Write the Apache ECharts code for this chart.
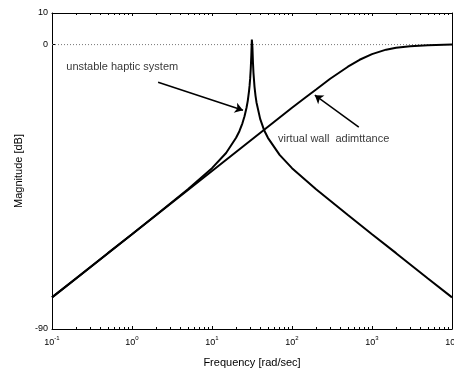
<!DOCTYPE html>
<html>
<head>
<meta charset="utf-8">
<script src="https://cdn.jsdelivr.net/npm/echarts@6/dist/echarts.min.js"></script>
<style>html,body{margin:0;padding:0;background:#fff}#c{width:454px;height:369px}</style>
</head>
<body>
<div id="c"></div>
<script>
// ---- data ----
const freqUnstable = [0.1, 0.2, 0.5, 1, 2, 5, 10, 15, 20, 22, 24, 25.5, 27, 28, 29, 29.5, 30, 30.5, 31, 31.3, 31.5, 31.62, 31.75, 32, 32.5, 33, 34, 35, 36, 40, 45, 50, 70, 100, 200, 500, 1000, 2000, 5000, 10000];
const magUnstable  = [-80.0, -74.0, -66.0, -60.0, -53.9, -45.8, -39.1, -34.3, -29.5, -27.4, -24.9, -22.7, -20.0, -17.8, -14.8, -13.0, -10.7, -7.7, -3.5, -0.2, 1.6, 2.0, 1.6, -0.8, -5.6, -9.0, -13.4, -16.2, -18.3, -23.5, -27.2, -29.5, -34.9, -39.1, -45.8, -53.9, -60.0, -66.0, -74.0, -80.0];
const freqWall = [0.1, 1, 10, 100, 150, 200, 300, 500, 700, 1000, 1500, 2000, 3000, 5000, 10000];
const magWall  = [-80.0, -60.0, -40.0, -20.0, -16.6, -14.2, -10.8, -7.0, -4.8, -3.0, -1.6, -1.0, -0.5, -0.2, 0.0];
const zeroLineX = [0.1, 10000];
const zeroLineY = [0, 0];
const xTickValues = [0.1, 1, 10, 100, 1000, 10000];
const xTickExponents = ['-1', '0', '1', '2', '3', '4'];
const yTickValues = [-90, 0, 10];
const annotationTexts = ['unstable haptic system', 'virtual wall  adimttance'];
const annotationTextX = [0.151, 66.8];
const annotationTextY = [-7.2, -29.9];
const arrowTailX = [2.12, 684];
const arrowTailY = [-11.9, -26.1];
const arrowTipX = [24.4, 193];
const arrowTipY = [-20.8, -16.0];
const xAxisTitle = 'Frequency [rad/sec]';
const yAxisTitle = 'Magnitude [dB]';

// minor tick positions (2..9 in each decade)
const xMinorTicks = [];
for (let d = -1; d < 4; d++) for (let m = 2; m <= 9; m++) xMinorTicks.push(+(m * Math.pow(10, d)).toPrecision(3));

const FONT = '"Liberation Sans", Arial, Helvetica, sans-serif';
const pair = (xs, ys) => xs.map((x, i) => [x, ys[i]]);

const chart = echarts.init(document.getElementById('c'), null, {renderer: 'canvas'});

const baseX = {type: 'log', logBase: 10, min: 0.1, max: 10000, gridIndex: 0, splitLine: {show: false}};
const axisBlack = {onZero: false, lineStyle: {color: '#000', width: 1}};

chart.setOption({
  animation: false,
  backgroundColor: '#fff',
  grid: {left: 52, right: 2, top: 13, bottom: 40, containLabel: false, outerBoundsMode: 'none'},
  xAxis: [
    Object.assign({}, baseX, {
      position: 'bottom',
      axisLine: axisBlack,
      axisTick: {inside: true, length: 3, customValues: xTickValues, lineStyle: {color: '#000'}},
      axisLabel: {
        customValues: xTickValues, margin: 6, color: '#000', fontFamily: FONT,
        formatter: function (v) {
          const i = xTickValues.findIndex(t => Math.abs(Math.log10(t) - Math.log10(v)) < 1e-6);
          return '{b|10}{s|' + (i >= 0 ? xTickExponents[i] : '') + '}';
        },
        rich: {
          b: {fontSize: 9, fontFamily: FONT, color: '#000', verticalAlign: 'bottom', lineHeight: 12},
          s: {fontSize: 6, fontFamily: FONT, color: '#000', verticalAlign: 'top', lineHeight: 12}
        }
      },
      name: xAxisTitle, nameLocation: 'middle', nameGap: 28,
      nameTextStyle: {fontSize: 11, fontFamily: FONT, color: '#000'}
    }),
    Object.assign({}, baseX, {
      position: 'bottom',
      axisLine: {show: false, onZero: false},
      axisTick: {inside: true, length: 2, customValues: xMinorTicks, lineStyle: {color: '#000'}},
      axisLabel: {show: false}
    }),
    Object.assign({}, baseX, {
      position: 'top',
      axisLine: axisBlack,
      axisTick: {inside: true, length: 3, customValues: xTickValues, lineStyle: {color: '#000'}},
      axisLabel: {show: false}
    }),
    Object.assign({}, baseX, {
      position: 'top',
      axisLine: {show: false, onZero: false},
      axisTick: {inside: true, length: 2, customValues: xMinorTicks, lineStyle: {color: '#000'}},
      axisLabel: {show: false}
    })
  ],
  yAxis: [
    {
      type: 'value', min: -90, max: 10, position: 'left', gridIndex: 0,
      splitLine: {show: false},
      axisLine: axisBlack,
      axisTick: {inside: true, length: 3, customValues: yTickValues, lineStyle: {color: '#000'}},
      axisLabel: {customValues: yTickValues, margin: 4, fontSize: 9, fontFamily: FONT, color: '#000'},
      name: yAxisTitle, nameLocation: 'middle', nameGap: 28,
      nameTextStyle: {fontSize: 11, fontFamily: FONT, color: '#000'}
    },
    {
      type: 'value', min: -90, max: 10, position: 'right', gridIndex: 0,
      splitLine: {show: false},
      axisLine: axisBlack,
      axisTick: {inside: true, length: 3, customValues: yTickValues, lineStyle: {color: '#000'}},
      axisLabel: {show: false}
    }
  ],
  series: [
    {
      name: 'zero', type: 'line', xAxisIndex: 0, yAxisIndex: 0,
      data: pair(zeroLineX, zeroLineY), showSymbol: false, symbol: 'none',
      lineStyle: {color: '#777', width: 1, type: [1, 2]}, silent: true
    },
    {
      name: 'unstable', type: 'line', xAxisIndex: 0, yAxisIndex: 0,
      data: pair(freqUnstable, magUnstable), showSymbol: false, symbol: 'none',
      lineStyle: {color: '#000', width: 2}, clip: true
    },
    {
      name: 'wall', type: 'line', xAxisIndex: 0, yAxisIndex: 0,
      data: pair(freqWall, magWall), showSymbol: false, symbol: 'none',
      lineStyle: {color: '#000', width: 2}, clip: true
    },
    {
      name: 'arrows', type: 'line', xAxisIndex: 0, yAxisIndex: 0, data: [],
      markLine: {
        silent: true, animation: false,
        symbol: ['none', 'arrow'], symbolSize: 8,
        label: {show: false},
        lineStyle: {color: '#000', width: 1.5, type: 'solid'},
        data: arrowTailX.map((x, i) => [
          {coord: [x, arrowTailY[i]]},
          {coord: [arrowTipX[i], arrowTipY[i]]}
        ])
      }
    },
    {
      name: 'texts', type: 'scatter', xAxisIndex: 0, yAxisIndex: 0,
      symbolSize: 0, silent: true,
      data: annotationTexts.map((t, i) => ({value: [annotationTextX[i], annotationTextY[i]], name: t})),
      label: {
        show: true, position: 'right', distance: 0,
        formatter: p => p.name, fontSize: 11, fontFamily: FONT, color: '#000'
      }
    }
  ]
});
</script>
</body>
</html>
